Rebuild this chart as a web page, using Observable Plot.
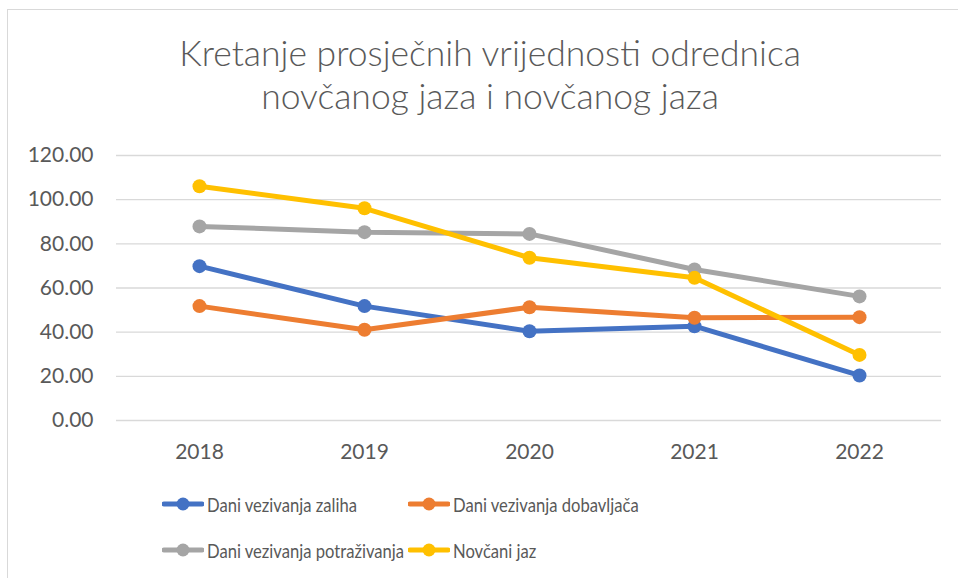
<!DOCTYPE html>
<html><head><meta charset="utf-8">
<script src="https://cdn.jsdelivr.net/npm/d3@7"></script>
<script src="https://cdn.jsdelivr.net/npm/@observablehq/plot@0.6"></script>
<style>
body{margin:0;background:#fff;}
#frame{position:relative;width:958px;height:578px;overflow:hidden;font-family:Lato,"Open Sans",sans-serif;color:#595959;background:#fff;}
#border{position:absolute;left:7px;top:9px;width:1000px;height:700px;border:1.5px solid #d9d9d9;box-sizing:border-box;}
#title{position:absolute;left:0;top:31px;width:980px;text-align:center;font-size:35.5px;font-weight:300;line-height:43px;}
#chart{position:absolute;left:0;top:130px;}
.leg{position:absolute;height:30px;display:flex;align-items:center;font-size:20px;white-space:nowrap;}
.leg svg{margin-right:3px;flex:none;}
.leg span{display:inline-block;transform:scaleX(0.83);transform-origin:0 50%;}
</style></head>
<body>
<div id="frame">
  <div id="border"></div>
  <div id="title">Kretanje prosječnih vrijednosti odrednica<br>novčanog jaza i novčanog jaza</div>
  <div id="chart"></div>
  <div id="legend"></div>
</div>
<script>
const years = ["2018", "2019", "2020", "2021", "2022"];
const seriesNames = ["Dani vezivanja zaliha", "Dani vezivanja dobavljača", "Dani vezivanja potraživanja", "Novčani jaz"];
const zaliha = [69.9, 51.8, 40.4, 42.7, 20.4];
const dobavljaca = [51.8, 41.1, 51.3, 46.5, 46.8];
const potrazivanja = [87.9, 85.3, 84.5, 68.4, 56.2];
const jaz = [106.1, 96.1, 73.7, 64.6, 29.7];
const yTicks = [0, 20, 40, 60, 80, 100, 120];
const colors = ["#4472C4", "#ED7D31", "#A5A5A5", "#FFC000"];

const seriesValues = [zaliha, dobavljaca, potrazivanja, jaz];
const rows = seriesNames.map((name, i) => years.map((year, j) => ({series: name, year, value: seriesValues[i][j]})));

const marks = [
  Plot.gridY(yTicks, {stroke: "#d9d9d9", strokeOpacity: 1, strokeWidth: 1.4}),
  Plot.axisY(yTicks, {tickSize: 0, tickPadding: 23, tickFormat: d3.format(".2f"), fontSize: 21}),
  Plot.axisX({tickSize: 0, tickPadding: 24, fontSize: 21})
];
rows.forEach((data) => {
  marks.push(Plot.lineY(data, {x: "year", y: "value", stroke: "series", strokeWidth: 5}));
  marks.push(Plot.dot(data, {x: "year", y: "value", fill: "series", r: 7}));
});

const chart = Plot.plot({
  width: 958,
  height: 340,
  marginTop: 25,
  marginBottom: 50,
  marginLeft: 116,
  marginRight: 17,
  style: {color: "#595959", fontFamily: "Lato, 'Open Sans', sans-serif", background: "transparent", overflow: "visible"},
  x: {type: "point", domain: years, padding: 0.5, label: null},
  y: {domain: [0, 120], label: null},
  color: {domain: seriesNames, range: colors},
  marks
});
document.getElementById("chart").appendChild(chart);

// legend
const legPos = [[162, 489], [408, 489], [162, 535], [408, 535]];
const legend = document.getElementById("legend");
seriesNames.forEach((name, i) => {
  const div = document.createElement("div");
  div.className = "leg";
  div.style.left = legPos[i][0] + "px";
  div.style.top = legPos[i][1] + "px";
  div.innerHTML = `<svg width="42" height="16"><line x1="2" y1="8" x2="40" y2="8" stroke="${colors[i]}" stroke-width="5" stroke-linecap="round"/><circle cx="21" cy="8" r="6.5" fill="${colors[i]}"/></svg><span>${name}</span>`;
  legend.appendChild(div);
});
</script>
</body></html>
